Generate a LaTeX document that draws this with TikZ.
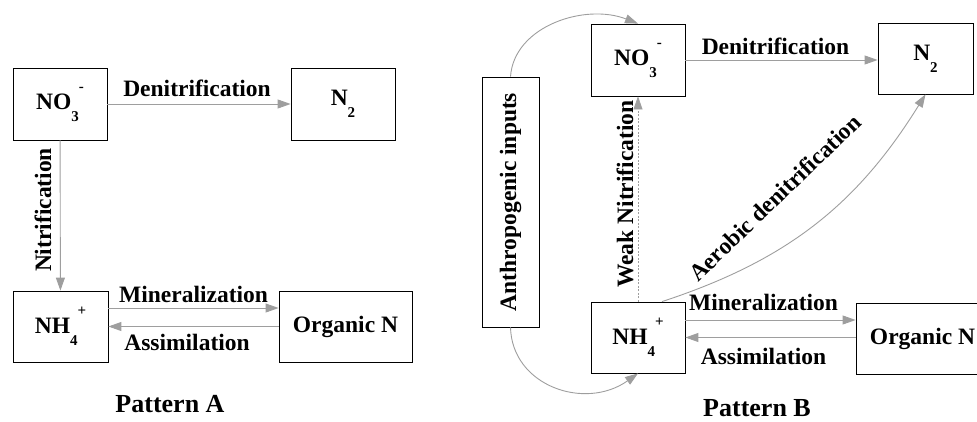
\documentclass[tikz,border=0pt]{standalone}
\usepackage{fontspec}
\setmainfont{Liberation Serif}
\usetikzlibrary{arrows.meta}
\definecolor{arr}{RGB}{158,158,158}
\newcommand\lblfont{\fontsize{23.5}{28}\selectfont\bfseries}
\newcommand\patfont{\fontsize{26}{30}\selectfont\bfseries}
\newcommand\smallidx[1]{{\fontsize{15}{15}\selectfont #1}}
\newcommand\ionlbl[3]{#1\raisebox{-12pt}{\smallidx{#2}}\raisebox{18pt}{\smallidx{#3}}}
\newcommand\sublbl[2]{#1\raisebox{-12pt}{\smallidx{#2}}}
\begin{document}
\begin{tikzpicture}[x=1pt,y=1pt,
  box/.style={draw, line width=0.8pt, inner sep=0pt, font=\lblfont, align=center},
  flow/.style={draw=arr, line width=0.9pt, -{Triangle[length=13pt,width=9pt,fill=arr]}},
  weakflow/.style={flow, line width=0.6pt, dash pattern=on 2pt off 1.5pt},
  lbl/.style={font=\lblfont, anchor=base, inner sep=0pt}]
\useasboundingbox (0,0) rectangle (977,421);
\clip (0,0) rectangle (977,421);

% ---------- Pattern A ----------
\node[box, minimum width=94pt, minimum height=72pt] (no3a) at (60,317) {\ionlbl{NO}{3}{-}};
\node[box, minimum width=104pt, minimum height=72pt] (n2a) at (343,317) {\sublbl{N}{2}};
\node[box, minimum width=95pt, minimum height=71pt] (nh4a) at (60.5,94.5) {\ionlbl{NH}{4}{+}};
\node[box, minimum width=133pt, minimum height=71pt] (orga) at (345.5,94.5) {Organic N};

\draw[flow] (no3a) -- (n2a);
\draw[flow] (no3a) -- (nh4a);
\draw[flow] ([yshift=18.5pt]nh4a.east) -- ([yshift=18.5pt]nh4a.east -| orga.west);
\draw[flow] (orga.west) -- (orga.west -| nh4a.east);

\node[lbl] (denA) at (197,324) {Denitrification};
\node[lbl, rotate=90] (nitA) at (51,211) {Nitrification};
\node[lbl] (minA) at (193.5,119) {Mineralization};
\node[lbl] (assA) at (187,71) {Assimilation};
\node[lbl, font=\patfont] (patA) at (170,9) {Pattern A};

% ---------- Pattern B ----------
\node[box, minimum width=57pt, minimum height=250pt] (anth) at (510.5,219) {\rotatebox{90}{Anthropogenic inputs}};
\node[box, minimum width=94pt, minimum height=72pt] (no3b) at (638,361) {\ionlbl{NO}{3}{-}};
\node[box, minimum width=95pt, minimum height=71pt] (n2b) at (925.5,362.5) {\sublbl{N}{2}};
\node[box, minimum width=94pt, minimum height=71pt] (nh4b) at (638,83.5) {\ionlbl{NH}{4}{+}};
\node[box, minimum width=133pt, minimum height=71pt] (orgb) at (922.5,82.5) {Organic N};

\draw[flow] (no3b.east) -- (no3b.east -| n2b.west);
\draw[weakflow] (nh4b) -- (no3b);
\draw[flow] ([xshift=24pt]nh4b.north) to[bend right=20] (n2b.south);
\draw[flow] ([yshift=17.5pt]nh4b.east) -- ([yshift=17.5pt]nh4b.east -| orgb.west);
\draw[flow] (nh4b.east -| orgb.west) -- (nh4b.east);
\draw[flow] (anth.north) .. controls (514,395) and (585,418) .. (no3b.north);
\draw[flow] (anth.south) .. controls (512,35) and (585,10) .. (nh4b.south);

\node[lbl] (denB) at (775.5,366) {Denitrification};
\node[lbl, rotate=90] (weakB) at (633,227) {Weak Nitrification};
\node[lbl, rotate=44] (aeroB) at (780.5,217.5) {Aerobic denitrification};
\node[lbl] (minB) at (763.5,111) {Mineralization};
\node[lbl] (assB) at (763.5,57) {Assimilation};
\node[lbl, font=\patfont] (patB) at (757,4.5) {Pattern B};
\end{tikzpicture}
\end{document}
